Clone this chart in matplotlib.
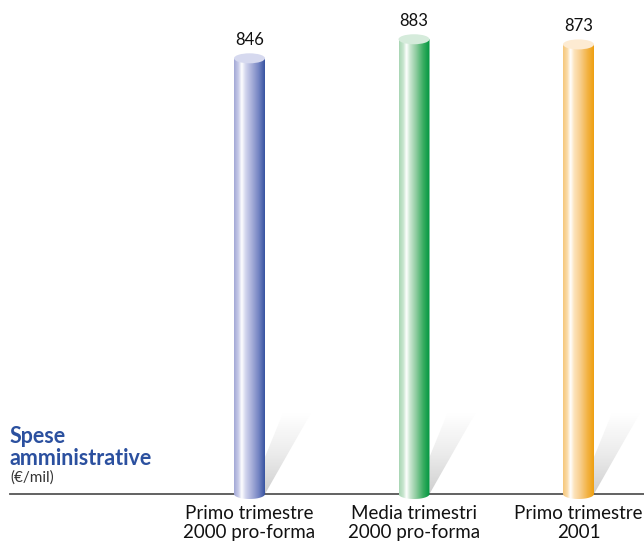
import matplotlib as mpl
mpl.use('Agg')
import matplotlib.pyplot as plt
import numpy as np
from matplotlib.colors import LinearSegmentedColormap
from matplotlib.patches import Ellipse, Polygon

categories = ["Primo trimestre\n2000 pro-forma", "Media trimestri\n2000 pro-forma", "Primo trimestre\n2001"]
values = [846, 883, 873]
labels = ["846", "883", "873"]

# gradient stops (left -> right) and top colour per bar
stops = [
    ['#a3a8d6', '#c9cce9', '#ffffff', '#d3d6ee', '#a9b0da', '#7383c2', '#2e4c9b'],
    ['#a8d6b4', '#c8e6cf', '#ffffff', '#c9e6d0', '#8fcca0', '#3aae62', '#00963f'],
    ['#f6c77a', '#fbdcaa', '#ffffff', '#fde3bb', '#f8cf8f', '#f3b448', '#ee9f10'],
]
tops = ['#d6d9ef', '#d5ebdb', '#fdebd2']

plt.rcParams['font.family'] = ['Lato', 'DejaVu Sans']

W, H = 644, 542
base_px = 494.0
px_per_unit = 0.515
x0_px = 249.5
step_px = 164.5

fig = plt.figure(figsize=(W / 100, H / 100), dpi=100)
ax = fig.add_axes([0, 0, 1, 1])
ax.set_xlim(-x0_px / step_px, (W - x0_px) / step_px)
ax.set_ylim(-(H - base_px) / px_per_unit, base_px / px_per_unit)
ax.axis('off')

def ux(px):
    return px / step_px

def uy(px):
    return px / px_per_unit

bw = ux(31)
eh = uy(10)

# shadows
shade = np.linspace(0, 1, 100).reshape(-1, 1)
shade_cmap = LinearSegmentedColormap.from_list('sh', ['#cfcfcf', '#ececec', '#ffffff'])
for i, v in enumerate(values):
    pts = [(i + ux(15.5), 0), (i + ux(15.5), uy(37)), (i + ux(33.5), uy(81)), (i + ux(61.5), uy(81))]
    poly = Polygon(pts, closed=True, facecolor='none', edgecolor='none')
    ax.add_patch(poly)
    im = ax.imshow(shade, cmap=shade_cmap, extent=[i + ux(15), i + ux(62), 0, uy(81)],
                   origin='lower', aspect='auto', zorder=1, interpolation='bilinear')
    im.set_clip_path(poly)

# baseline
ax.plot([ux(10) - x0_px / step_px, (W - x0_px) / step_px], [0, 0], color='#555555', lw=1.3, zorder=2)

# cylinders
grad = np.linspace(0, 1, 200).reshape(1, -1)
for i, v in enumerate(values):
    cmap = LinearSegmentedColormap.from_list('c%d' % i, list(zip([0, 0.14, 0.24, 0.36, 0.55, 0.78, 1.0], stops[i])))
    left, right = i - bw / 2, i + bw / 2
    t = np.linspace(np.pi, 2 * np.pi, 40)
    bottom = [(i + bw / 2 * np.cos(a), eh / 2 * np.sin(a)) for a in t]
    verts = [(left, v)] + bottom + [(right, v), (left, v)]
    clip = Polygon(verts, closed=True, facecolor='none', edgecolor='none')
    ax.add_patch(clip)
    im = ax.imshow(grad, cmap=cmap, extent=[left, right, -eh / 2, v], aspect='auto',
                   zorder=3, interpolation='bilinear')
    im.set_clip_path(clip)
    ax.add_patch(Ellipse((i, v), bw, eh, facecolor=tops[i], edgecolor='none', zorder=4))
    ax.text(i, v + uy(18), labels[i], ha='center', va='center', fontsize=12, color='#111111')
    ax.text(i, -uy(11), categories[i], ha='center', va='top', fontsize=13.5,
            color='#111111', linespacing=1.12)

# title
tx = ux(10) - x0_px / step_px
ax.text(tx, uy(494 - 465), "Spese\namministrative", ha='left', va='baseline', fontsize=15.5,
        fontweight='bold', color='#2b509f', linespacing=1.05)
ax.text(tx, uy(494 - 482), "(€/mil)", ha='left', va='baseline', fontsize=11, color='#333333')

fig.savefig('out.png', dpi=100)
